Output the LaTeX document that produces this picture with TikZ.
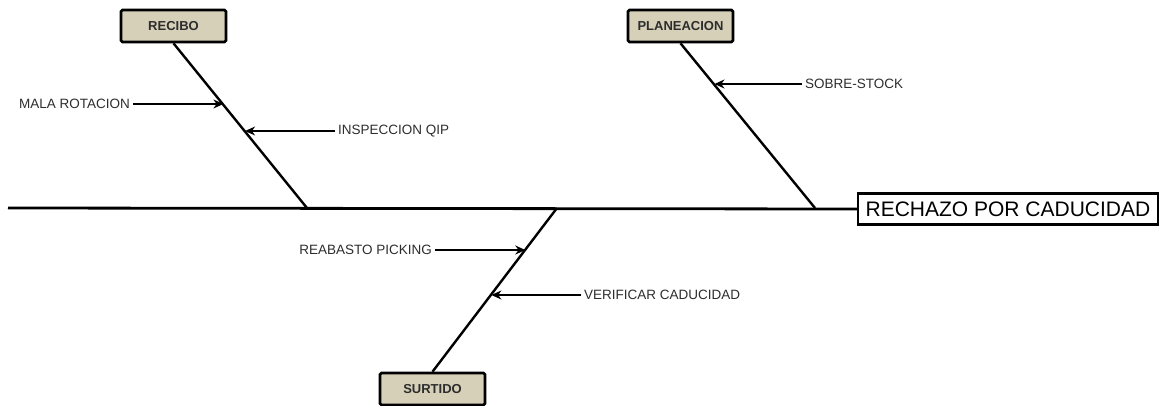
\documentclass[tikz,border=0pt]{standalone}
\usepackage{fontspec}
\setmainfont{Liberation Sans}
\usetikzlibrary{arrows.meta}
\definecolor{causefill}{RGB}{214,208,184}
\definecolor{labeltext}{RGB}{45,45,45}

\begin{document}
\begin{tikzpicture}[%
    x=1pt,
    y=-1pt,
    >={Stealth[length=10pt,width=9pt]},
    cause/.style={%
      rectangle,
      rounded corners=1.5pt,
      draw,
      line width=2.6pt,
      fill=causefill,
      minimum width=105pt,
      minimum height=32pt,
      inner sep=0pt,
      font=\fontsize{13}{15}\selectfont\bfseries,
      text=labeltext
    },
    effect/.style={%
      rectangle,
      draw,
      line width=2.2pt,
      fill=white,
      minimum width=300pt,
      minimum height=31pt,
      inner sep=0pt,
      font=\fontsize{21}{23}\selectfont
    },
    bone/.style={line width=2.4pt},
    spine/.style={line width=2.8pt},
    sub/.style={%
      inner sep=3pt,
      font=\fontsize{13.5}{15}\selectfont,
      text=labeltext
    },
    subarrow/.style={->, line width=1.5pt}
  ]
    \useasboundingbox (0,0) rectangle (1162,405);

    \node[effect] (rechazo) at (1008,209) {RECHAZO POR CADUCIDAD};
    \node[cause] (recibo)     at (173.5,26)  {RECIBO};
    \node[cause] (planeacion) at (680.5,26)  {PLANEACION};
    \node[cause] (surtido)    at (432.5,389) {SURTIDO};

    \coordinate (tail) at (8,208);
    \coordinate (j1) at (307,208);
    \coordinate (j2) at (815,208);
    \coordinate (j3) at (557,208);

    % points where the sub causes hit the bones
    \coordinate (h1) at (223.4,104);
    \coordinate (h2) at (245.1,131);
    \coordinate (h3) at (714.5,84);
    \coordinate (h4) at (525.3,250);
    \coordinate (h5) at (491.4,295);

    \node[sub, anchor=east] (mala)      at (133,104) {MALA ROTACION};
    \node[sub, anchor=west] (inspeccion) at (335,131) {INSPECCION QIP};
    \node[sub, anchor=west] (sobre)     at (802,84)  {SOBRE-STOCK};
    \node[sub, anchor=east] (reabasto)  at (435,250) {REABASTO PICKING};
    \node[sub, anchor=west] (verificar) at (581,295) {VERIFICAR CADUCIDAD};

    \draw[spine] (tail) -- (rechazo.west);
    \draw[bone] (recibo.south) -- (j1);
    \draw[bone] (planeacion.south) -- (j2);
    \draw[bone] (surtido.north) -- (j3);

    \path[subarrow] (mala) edge (h1)
          (inspeccion) edge (h2)
          (sobre) edge (h3)
          (reabasto) edge (h4)
          (verificar) edge (h5);
  \end{tikzpicture}
\end{document}
